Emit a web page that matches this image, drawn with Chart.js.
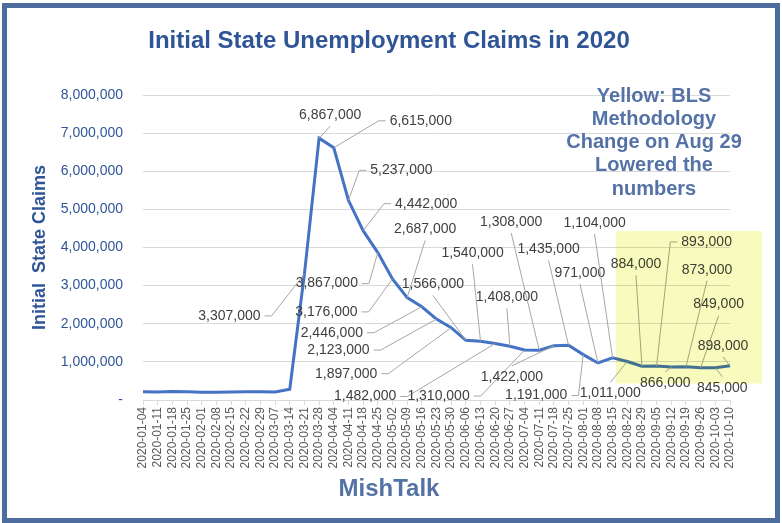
<!DOCTYPE html>
<html>
<head>
<meta charset="utf-8">
<script src="https://cdn.jsdelivr.net/npm/chart.js@4.4.0/dist/chart.umd.min.js"></script>
<style>
    body { margin: 0; background: #fff; }
</style>
</head>
<body>
<canvas id="claims" width="782" height="523"></canvas>
<script>
const weeks = [
    "2020-01-04", "2020-01-11", "2020-01-18", "2020-01-25", "2020-02-01", "2020-02-08",
    "2020-02-15", "2020-02-22", "2020-02-29", "2020-03-07", "2020-03-14", "2020-03-21",
    "2020-03-28", "2020-04-04", "2020-04-11", "2020-04-18", "2020-04-25", "2020-05-02",
    "2020-05-09", "2020-05-16", "2020-05-23", "2020-05-30", "2020-06-06", "2020-06-13",
    "2020-06-20", "2020-06-27", "2020-07-04", "2020-07-11", "2020-07-18", "2020-07-25",
    "2020-08-01", "2020-08-08", "2020-08-15", "2020-08-22", "2020-08-29", "2020-09-05",
    "2020-09-12", "2020-09-19", "2020-09-26", "2020-10-03", "2020-10-10",
];

const claims = [
    214000, 207000, 222000, 216000, 203000, 206000,
    211000, 219000, 217000, 211000, 282000, 3307000,
    6867000, 6615000, 5237000, 4442000, 3867000, 3176000,
    2687000, 2446000, 2123000, 1897000, 1566000, 1540000,
    1482000, 1408000, 1310000, 1308000, 1422000, 1435000,
    1191000, 971000, 1104000, 1011000, 884000, 893000,
    866000, 873000, 849000, 845000, 898000,
];

// where each value label sits, relative to its point (px), null = no label
const labelOffsets = [
    null, null, null, null, null, null,
    null, null, null, null, null, [-75, 42],
    [11, -23], [87, -27], [53, -30], [63, -27], [-51, 31], [-66, 33],
    [18, -68], [-90, 26], [-98, 31], [-105, 46], [-33, -56], [-8, -88],
    [-130, 53], [-3, -49], [-86, 46], [-28, -128], [-42, 31], [-20, -96],
    [-47, 41], [-18, -90], [-18, -135], [-17, 32], [-6, -102], [50, -124],
    [-6, 16], [21, -97], [18, -63], [7, 20], [-7, -20],
];

const noteLines = ["Yellow: BLS", "Methodology", "Change on Aug 29", "Lowered the", "numbers"];

const BLUE = "#2F5597";
const NOTE_BLUE = "#5472A5";

Chart.defaults.font.family = "'Liberation Sans', Arial, sans-serif";

const fmt = (v) => v.toLocaleString("en-US");

const decorPlugin = {
    id: "decor",
    afterDatasetsDraw(chart) {
        const ctx = chart.ctx;
        const meta = chart.getDatasetMeta(0);
        ctx.save();
        ctx.font = "14px 'Liberation Sans', Arial, sans-serif";
        ctx.textAlign = "center";
        ctx.textBaseline = "middle";
        ctx.strokeStyle = "#a6a6a6";
        ctx.lineWidth = 1;
        meta.data.forEach((pt, i) => {
            const off = labelOffsets[i];
            if (!off) return;
            const text = fmt(claims[i]);
            const w = ctx.measureText(text).width;
            const cx = pt.x + off[0];
            const cy = pt.y + off[1];
            ctx.beginPath();
            if (Math.abs(pt.x - cx) <= w / 2 + 12) {
                ctx.moveTo(cx, cy + (off[1] < 0 ? 11 : -11));
                ctx.lineTo(pt.x, pt.y);
            } else {
                const dir = pt.x > cx ? 1 : -1;
                const sx = cx + dir * (w / 2 + 4);
                ctx.moveTo(sx, cy);
                ctx.lineTo(sx + dir * 7, cy);
                ctx.lineTo(pt.x, pt.y);
            }
            ctx.stroke();
            ctx.fillStyle = "#404040";
            ctx.fillText(text, cx, cy);
        });
        ctx.restore();
    },
    afterDraw(chart) {
        const ctx = chart.ctx;
        const x = chart.scales.x;
        const y = chart.scales.y;
        ctx.save();

        // yellow highlight over the methodology change period
        const left = x.getPixelForValue(33) - 11.5;
        const right = x.getPixelForValue(40) + 32;
        const top = y.getPixelForValue(4430000);
        const bottom = y.getPixelForValue(430000);
        ctx.globalCompositeOperation = "multiply";
        ctx.fillStyle = "#F8FBBE";
        ctx.fillRect(left, top, right - left, bottom - top);
        ctx.globalCompositeOperation = "source-over";

        // title
        ctx.fillStyle = BLUE;
        ctx.textAlign = "center";
        ctx.textBaseline = "middle";
        ctx.font = "bold 24px 'Liberation Sans Narrow', 'Liberation Sans', sans-serif";
        ctx.fillText("Initial State Unemployment Claims in 2020", 389, 41);

        // note
        ctx.fillStyle = NOTE_BLUE;
        ctx.font = "bold 20px 'Liberation Sans', Arial, sans-serif";
        noteLines.forEach((line, i) => ctx.fillText(line, 654, 96 + i * 23.3));

        ctx.font = "bold 24px 'Liberation Sans', Arial, sans-serif";
        ctx.fillText("MishTalk", 389, 489);

        // frame
        ctx.strokeStyle = "#4E6D9F";
        ctx.lineWidth = 5;
        ctx.strokeRect(4.5, 5.5, 773, 515);
        ctx.restore();
    },
};

const ctx = document.getElementById("claims").getContext("2d");
new Chart(ctx, {
    type: "line",
    data: {
        labels: weeks,
        datasets: [
            {
                label: "Initial State Claims",
                data: claims,
                borderColor: "#4472C4",
                borderWidth: 3,
                pointRadius: 0,
                tension: 0,
                fill: false,
            },
        ],
    },
    options: {
        responsive: false,
        animation: false,
        layout: {
            padding: { left: 20, right: 52, top: 95, bottom: 43 },
        },
        plugins: {
            legend: { display: false },
            tooltip: { enabled: false },
        },
        scales: {
            x: {
                offset: false,
                grid: {
                    display: true,
                    drawOnChartArea: false,
                    drawTicks: true,
                    tickLength: 5,
                    color: "#d9d9d9",
                },
                border: { display: true, color: "#d9d9d9" },
                ticks: {
                    autoSkip: false,
                    maxRotation: 90,
                    minRotation: 90,
                    padding: 2,
                    color: "#595959",
                    font: { size: 12 },
                },
                afterFit(scale) {
                    scale.height = 80;
                },
            },
            y: {
                min: 0,
                max: 8000000,
                grid: { color: "#d9d9d9", drawTicks: false },
                border: { display: false },
                ticks: {
                    stepSize: 1000000,
                    padding: 20,
                    color: BLUE,
                    font: { size: 14 },
                    callback: (v) => (v === 0 ? "-" : fmt(v)),
                },
                title: {
                    display: true,
                    text: "Initial  State Claims",
                    color: BLUE,
                    font: { size: 18, weight: "bold" },
                    padding: { top: 9, bottom: 0 },
                },
                afterFit(scale) {
                    scale.width = 123;
                },
            },
        },
    },
    plugins: [decorPlugin],
});
</script>
</body>
</html>
